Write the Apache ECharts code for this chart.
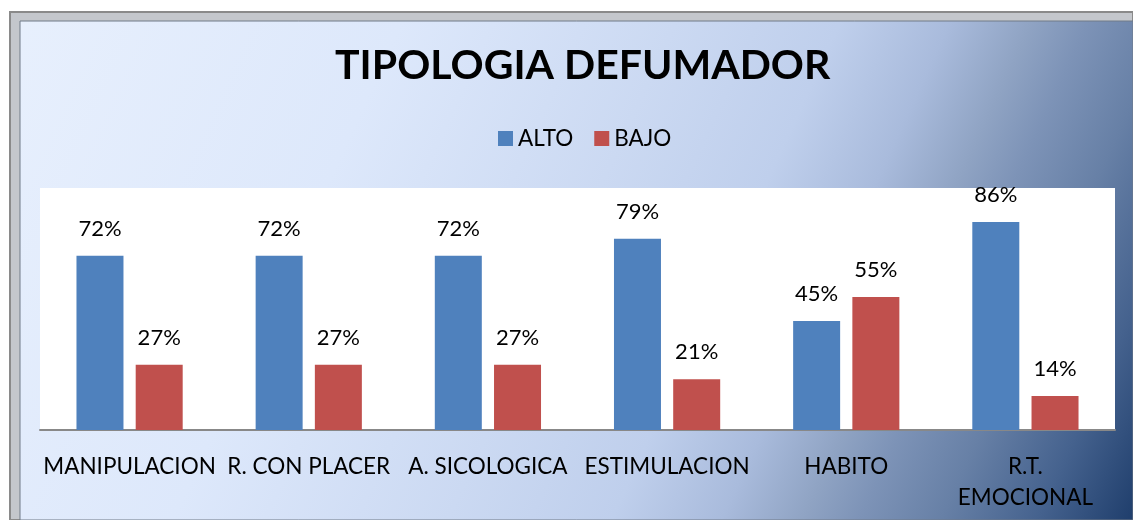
<!DOCTYPE html>
<html><head><meta charset="utf-8">
<script src="https://cdn.jsdelivr.net/npm/echarts@6/dist/echarts.min.js"></script>
<style>html,body{margin:0;padding:0;background:#fff}#c{width:1133px;height:520px}</style>
</head><body><div id="c"></div>
<script>
const categories = ['MANIPULACION', 'R. CON PLACER', 'A. SICOLOGICA', 'ESTIMULACION', 'HABITO', 'R.T. EMOCIONAL'];
const alto = [72, 72, 72, 79, 45, 86];
const bajo = [27, 27, 27, 21, 55, 14];
const seriesNames = ['ALTO', 'BAJO'];
const titleText = 'TIPOLOGIA DEFUMADOR';

const chart = echarts.init(document.getElementById('c'));
const font = 'Lato, sans-serif';
chart.setOption({
  animation: false,
  graphic: [
    { type: 'rect', z: -10, silent: true, shape: { x: 10, y: 12, width: 1123, height: 508 },
      style: { fill: '#c4c7cc', stroke: '#8a8a8a', lineWidth: 2 } },
    { type: 'rect', z: -9, silent: true, shape: { x: 20, y: 21, width: 1113, height: 499 },
      style: { fill: new echarts.graphic.LinearGradient(0, 0, 1133, 520, [
        { offset: 0, color: '#e8f0fd' },
        { offset: 0.3, color: '#dde8fb' },
        { offset: 0.5, color: '#cbd9f2' },
        { offset: 0.62, color: '#bfcfec' },
        { offset: 0.70, color: '#a9bbdc' },
        { offset: 0.76, color: '#8fa3c3' },
        { offset: 0.80, color: '#7d93b7' },
        { offset: 0.86, color: '#6780a6' },
        { offset: 0.93, color: '#45628e' },
        { offset: 1, color: '#1f3e6c' }
      ], true), stroke: '#707a88', lineWidth: 1 } },
    { type: 'rect', z: -8, silent: true, shape: { x: 40, y: 188, width: 1075, height: 242 },
      style: { fill: '#ffffff' } }
  ],
  title: {
    text: titleText, left: 330, top: 40,
    textStyle: { fontFamily: font, fontWeight: 'bold', fontSize: 41, color: '#000' }
  },
  legend: {
    data: seriesNames, top: 122, left: 493, itemWidth: 15, itemHeight: 15, itemGap: 21,
    icon: 'rect',
    textStyle: { fontFamily: font, fontSize: 22.5, color: '#000' }
  },
  grid: { left: 40, right: 18, top: 188, bottom: 90 },
  xAxis: {
    type: 'category', data: categories,
    axisLine: { lineStyle: { color: '#888', width: 2 } },
    axisTick: { show: false },
    axisLabel: {
      interval: 0, margin: 21, lineHeight: 31,
      fontFamily: font, fontSize: 22.5, color: '#000',
      formatter: v => v.replace('R.T. ', 'R.T.\n')
    }
  },
  yAxis: { type: 'value', min: 0, max: 100, show: false, splitLine: { show: false } },
  series: [
    { name: seriesNames[0], type: 'bar', data: alto, barWidth: 47, barGap: '26%',
      itemStyle: { color: '#4f81bd' },
      label: { show: true, position: 'top', distance: 16, formatter: '{c}%', fontFamily: font, fontSize: 22, color: '#000' } },
    { name: seriesNames[1], type: 'bar', data: bajo, barWidth: 47,
      itemStyle: { color: '#c0504d' },
      label: { show: true, position: 'top', distance: 16, formatter: '{c}%', fontFamily: font, fontSize: 22, color: '#000' } }
  ]
});
</script></body></html>
